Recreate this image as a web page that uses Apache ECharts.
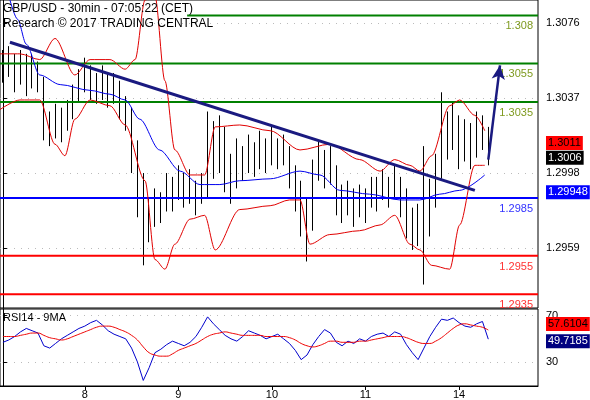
<!DOCTYPE html>
<html><head><meta charset="utf-8">
<script src="https://cdn.jsdelivr.net/npm/echarts@6/dist/echarts.min.js"></script>
<style>html,body{margin:0;padding:0;background:#fff}#c{width:590px;height:400px}</style>
</head><body><div id="c"></div>
<script>
const closes=[1.3055,1.3058,1.3052,1.3056,1.3050,1.3054,1.3048,1.3025,1.3020,1.3028,1.3024,1.3030,1.3038,1.3045,1.3050,1.3046,1.3042,1.3048,1.3040,1.3044,1.3036,1.3030,1.3015,1.2998,1.2958,1.2975,1.2982,1.2978,1.2990,1.2985,1.2995,1.2988,1.2992,1.2984,1.2990,1.3015,1.3005,1.3020,1.3000,1.2995,1.3008,1.3002,1.3010,1.3004,1.3012,1.3006,1.3015,1.3008,1.3012,1.3000,1.2992,1.2980,1.2970,1.2995,1.3008,1.2998,1.3004,1.2988,1.2982,1.2986,1.2978,1.2984,1.2980,1.2990,1.2985,1.2992,1.2988,1.2995,1.2986,1.2975,1.2968,1.2972,1.2975,1.2985,1.3000,1.3022,1.3018,1.3025,1.3012,1.3020,1.3010,1.3018,1.3022,1.3006];
const highs=[1.3062,1.3064,1.3060,1.3062,1.3060,1.3060,1.3056,1.3048,1.3030,1.3034,1.3032,1.3036,1.3044,1.3052,1.3058,1.3054,1.3050,1.3054,1.3050,1.3050,1.3046,1.3038,1.3032,1.3015,1.2998,1.2985,1.2990,1.2988,1.2998,1.2996,1.3002,1.2998,1.3000,1.2994,1.2998,1.3030,1.3025,1.3028,1.3022,1.3008,1.3016,1.3012,1.3018,1.3014,1.3020,1.3016,1.3022,1.3016,1.3018,1.3012,1.3002,1.2994,1.2985,1.3005,1.3015,1.3010,1.3012,1.3002,1.2992,1.2994,1.2990,1.2992,1.2990,1.2996,1.2996,1.3000,1.2996,1.3002,1.2996,1.2990,1.2980,1.2982,1.3012,1.2995,1.3008,1.3040,1.3030,1.3035,1.3028,1.3026,1.3024,1.3030,1.3028,1.3022];
const lows=[1.3045,1.3048,1.3040,1.3044,1.3038,1.3042,1.3040,1.3015,1.3012,1.3016,1.3014,1.3020,1.3026,1.3035,1.3040,1.3036,1.3034,1.3036,1.3032,1.3034,1.3026,1.3020,1.2998,1.2975,1.2950,1.2962,1.2970,1.2972,1.2978,1.2978,1.2984,1.2980,1.2982,1.2976,1.2982,1.2985,1.2995,1.2998,1.2988,1.2982,1.2990,1.2994,1.2998,1.2996,1.3000,1.2998,1.3002,1.3000,1.3002,1.2990,1.2978,1.2965,1.2952,1.2968,1.2994,1.2990,1.2992,1.2976,1.2972,1.2976,1.2970,1.2975,1.2972,1.2980,1.2978,1.2984,1.2980,1.2985,1.2975,1.2964,1.2958,1.2960,1.2940,1.2965,1.2980,1.2995,1.3005,1.3010,1.3000,1.3004,1.3000,1.3006,1.3010,1.3002];
const bbUpper=[[-0.5,1.3060],[2.9,1.3060],[6.3,1.3057],[8.9,1.3068],[12.3,1.3049],[14.9,1.3057],[18.3,1.3057],[20.9,1.3052],[22.6,1.3057],[24.3,1.3088],[26,1.3090],[27.7,1.3046],[29.4,1.3010],[32,1.2997],[34.5,1.2997],[36.3,1.3022],[40.5,1.3023],[45.7,1.3020],[50.8,1.3010],[55.9,1.3013],[61,1.3005],[64.5,1.2999],[67,1.3005],[69.6,1.3002],[71.3,1.2999],[73.3,1.3007],[76.4,1.3033],[78.1,1.3036],[80.7,1.3028],[82.4,1.3020]];
const bbLower=[[-0.5,1.3031],[2.9,1.3036],[6.3,1.3036],[8.9,1.3013],[10.6,1.3007],[12.3,1.3026],[14.9,1.3036],[18.3,1.3033],[20.9,1.3023],[24.3,1.2994],[26,1.2953],[27.7,1.2948],[29.4,1.2961],[32,1.2974],[34.5,1.2976],[36.3,1.2958],[40.5,1.2979],[45.7,1.2981],[49,1.2984],[50.8,1.2984],[52.5,1.2961],[55.9,1.2966],[61,1.2968],[64.5,1.2971],[67,1.2976],[69.6,1.2961],[71.3,1.2958],[73.3,1.2950],[76.4,1.2948],[78.1,1.2971],[80.7,1.3002],[82.4,1.3002]];
const maBlue=[[1.2,1.3088],[2.5,1.3078],[4,1.3065],[6.3,1.3049],[9.8,1.3044],[14.9,1.3041],[18.3,1.3039],[20.9,1.3036],[23.4,1.3026],[26.8,1.3010],[30.3,1.2999],[33.7,1.2992],[37.1,1.2992],[40.5,1.2994],[45.7,1.2995],[50.8,1.2999],[54.2,1.2997],[57.6,1.2989],[62.7,1.2987],[67.9,1.2984],[71.3,1.2984],[74.7,1.2987],[78.1,1.2989],[82.4,1.2997]];
const trendLine=[[1.2,1.3066],[80.7,1.2989]];
const arrowLine=[[83,1.3005],[85,1.3054]];
const rsi=[47,49,52,56,59,57,55,44,42,46,50,53,56,59,61,64,66,62,57,54,52,50,42,30,14,25,38,41,45,48,46,44,47,52,60,69,63,58,53,50,48,52,57,55,53,50,52,54,50,46,40,32,36,45,52,58,55,47,44,48,46,50,48,52,54,55,52,56,54,45,38,32,42,52,60,67,66,68,64,61,60,63,65,49.7];
const rsiMA=[52,52,52,53,54,55,55,53,51,50,49,50,52,54,56,58,60,61,61,60,58,56,53,49,43,38,36,35,35,37,40,42,44,46,49,52,54,55,56,55,54,53,53,53,53,52,52,52,52,51,49,46,44,43,44,46,48,48,47,47,47,48,48,49,50,51,52,52,52,51,49,47,46,46,48,51,55,59,62,63,62,61,60,57.6];
const dayLabels={14:'8',30:'9',46:'10',62:'11',78:'14'};
const priceTicks=[1.2959,1.2998,1.3037,1.3076];
const greenLevels=[1.308,1.3055,1.3035];
const blueLevels=[1.2985];
const redLevels=[1.2955,1.2935];
const priceBoxes=[[1.3011,'#ff0000','#000',-5],[1.3006,'#000','#fff',0],[1.29948,'#0000ff','#fff',13]];
const rsiBoxes=[[57.6104,'#ff0000','#000',-6],[49.7185,'#000080','#fff',2]];
const NSLOT=92;
const cats=Array.from({length:NSLOT},(_,i)=>String(i));
const ohlc=closes.map((c,i)=>[i?closes[i-1]:c,c,lows[i],highs[i]]);
const F='Liberation Sans, Arial, sans-serif';
function hline(v,color,lc,x0){return {type:'line',xAxisIndex:1,yAxisIndex:0,data:[[x0,v],[NSLOT-0.5,v]],symbol:'none',clip:false,lineStyle:{color:color,width:2},z:3,
  endLabel:{show:true,formatter:String(v),color:lc,fontSize:11,fontFamily:F,align:'right',offset:[-13,11]}};}
function box(b,yi,xi,z){const v=b[0];return {type:'line',xAxisIndex:xi,yAxisIndex:yi,data:[[NSLOT-0.5,v]],symbol:'none',showSymbol:false,clip:false,z:z,
  endLabel:{show:true,formatter:String(v),backgroundColor:b[1],color:b[2],fontSize:11,fontFamily:F,padding:[2,2,1,2],offset:[0,b[3]]}};}
const chart=echarts.init(document.getElementById('c'));
chart.setOption({
animation:false,
graphic:[{type:'text',left:3,top:1,z:100,style:{text:'GBP/USD - 30min - 07:05:22 (CET)\nResearch © 2017 TRADING CENTRAL',font:'12px '+F,fill:'#000',lineHeight:15}},
{type:'text',left:3,top:312,z:100,style:{text:'RSI14 - 9MA',font:'11px '+F,fill:'#000'}}],
grid:[{left:0,top:0,width:538,height:308,show:true,borderColor:'#000',borderWidth:1},{left:0,top:309,width:538,height:81,show:true,borderColor:'#000',borderWidth:1}],
xAxis:[
{type:'category',gridIndex:0,data:cats,axisLine:{show:false},axisTick:{show:false},axisLabel:{show:false}},
{type:'value',gridIndex:0,min:-0.5,max:NSLOT-0.5,show:false},
{type:'category',gridIndex:1,data:cats,axisLine:{lineStyle:{color:'#000'}},axisTick:{show:true,alignWithLabel:true,interval:(i)=>dayLabels[i]!==undefined,lineStyle:{color:'#000'},length:4},axisLabel:{interval:(i)=>dayLabels[i]!==undefined,formatter:(v,i)=>dayLabels[i]||'',color:'#000',fontSize:11,fontFamily:F,margin:3}},
{type:'value',gridIndex:1,min:-0.5,max:NSLOT-0.5,show:false}],
yAxis:[
{type:'value',gridIndex:0,position:'right',min:1.29278,max:1.3088,axisLine:{show:true,lineStyle:{color:'#000'}},axisTick:{show:true,customValues:priceTicks,lineStyle:{color:'#000'},length:4},axisLabel:{customValues:priceTicks,formatter:v=>v.toFixed(4),color:'#000',fontSize:11,fontFamily:F,margin:8},splitLine:{show:true,lineStyle:{color:'#bbb',type:[1,6]}}},
{type:'value',gridIndex:1,position:'right',min:9.2,max:75.8,axisLine:{show:true,lineStyle:{color:'#000'}},axisTick:{show:true,customValues:[30,70],length:4},axisLabel:{customValues:[30,70],color:'#000',fontSize:11,fontFamily:F,margin:8},splitLine:{show:true,lineStyle:{color:'#bbb',type:[1,6]}}}],
series:[
hline(greenLevels[0],'#008000','#7f9a1f',31.5),hline(greenLevels[1],'#008000','#7f9a1f',-0.5),hline(greenLevels[2],'#008000','#7f9a1f',-0.5),
hline(blueLevels[0],'#0000ff','#3333ff',-0.5),hline(redLevels[0],'#ff0000','#ff3333',-0.5),hline(redLevels[1],'#ff0000','#ff3333',-0.5),
{type:'line',xAxisIndex:1,yAxisIndex:0,data:bbUpper,smooth:0.3,smoothMonotone:'x',symbol:'none',lineStyle:{color:'#e00000',width:1},clip:true},
{type:'line',xAxisIndex:1,yAxisIndex:0,data:bbLower,smooth:0.3,smoothMonotone:'x',symbol:'none',lineStyle:{color:'#e00000',width:1},clip:true},
{type:'line',xAxisIndex:1,yAxisIndex:0,data:maBlue,smooth:0.3,smoothMonotone:'x',symbol:'none',lineStyle:{color:'#0000ee',width:1},clip:true},
{type:'candlestick',xAxisIndex:0,yAxisIndex:0,data:ohlc,barWidth:1,itemStyle:{color:'#000',color0:'#000',borderColor:'#000',borderColor0:'#000',borderWidth:1}},
{type:'line',xAxisIndex:1,yAxisIndex:0,data:trendLine,symbol:'none',lineStyle:{color:'#1a1a80',width:3}},
{type:'line',xAxisIndex:1,yAxisIndex:0,data:[],markLine:{silent:true,symbol:['none','arrow'],symbolSize:[10,14],lineStyle:{color:'#1a1a80',width:2.5,type:'solid'},label:{show:false},data:[[{coord:arrowLine[0]},{coord:arrowLine[1]}]]}},
...priceBoxes.map((b,i)=>box(b,0,1,10+i)),
{type:'line',xAxisIndex:2,yAxisIndex:1,data:rsi,symbol:'none',lineStyle:{color:'#0000cc',width:1}},
{type:'line',xAxisIndex:2,yAxisIndex:1,data:rsiMA,smooth:true,symbol:'none',lineStyle:{color:'#ee0000',width:1}},
...rsiBoxes.map((b,i)=>box(b,1,3,10+i))
]});
</script></body></html>
